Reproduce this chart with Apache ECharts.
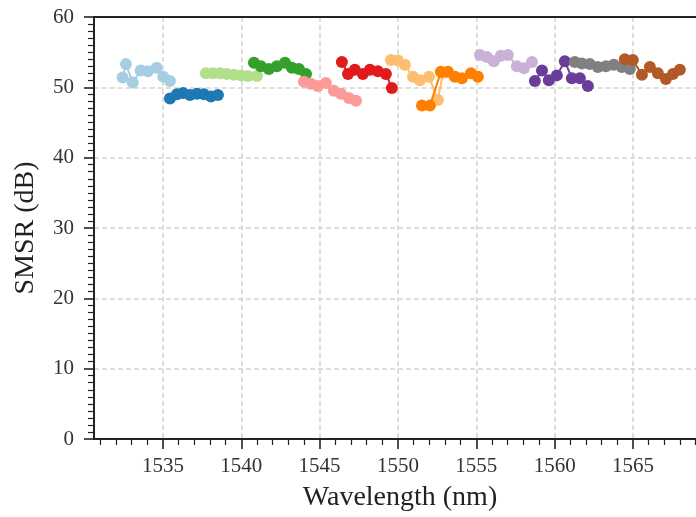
<!DOCTYPE html>
<html>
<head>
<meta charset="utf-8">
<script src="https://cdn.jsdelivr.net/npm/echarts@6/dist/echarts.min.js"></script>
<style>
  html, body { margin: 0; padding: 0; background: #ffffff; }
  #chart { width: 696px; height: 517px; }
</style>
</head>
<body>
<div id="chart"></div>
<script>
// Side-mode suppression ratio of each laser group across the C-band.
const lambda01 = [1532.43, 1532.64, 1533.07, 1533.58, 1534.04, 1534.60, 1535.02, 1535.45];
const smsr01   = [51.4, 53.3, 50.7, 52.4, 52.3, 52.8, 51.5, 50.9];

const lambda02 = [1535.45, 1535.89, 1536.28, 1536.72, 1537.17, 1537.62, 1538.06, 1538.51];
const smsr02   = [48.4, 49.0, 49.2, 48.9, 49.1, 49.0, 48.7, 48.9];

const lambda03 = [1537.74, 1538.19, 1538.64, 1539.08, 1539.53, 1539.98, 1540.42, 1541.00];
const smsr03   = [52.0, 52.0, 52.0, 51.9, 51.8, 51.7, 51.6, 51.6];

const lambda04 = [1540.81, 1541.25, 1541.76, 1542.27, 1542.79, 1543.23, 1543.68, 1544.13];
const smsr04   = [53.5, 53.0, 52.6, 53.0, 53.5, 52.8, 52.6, 51.9];

const lambda05 = [1544.00, 1544.44, 1544.89, 1545.40, 1545.91, 1546.36, 1546.87, 1547.32];
const smsr05   = [50.8, 50.5, 50.2, 50.6, 49.5, 49.1, 48.5, 48.1];

const lambda06 = [1546.42, 1546.81, 1547.25, 1547.76, 1548.21, 1548.72, 1549.23, 1549.61];
const smsr06   = [53.6, 51.9, 52.5, 51.9, 52.5, 52.3, 51.9, 49.9];

const lambda07 = [1549.55, 1550.00, 1550.44, 1550.96, 1551.40, 1551.98, 1552.55, 1552.87];
const smsr07   = [53.9, 53.8, 53.2, 51.5, 51.0, 51.5, 48.2, 52.0];

const lambda08 = [1551.53, 1552.04, 1552.74, 1553.19, 1553.63, 1554.08, 1554.66, 1555.10];
const smsr08   = [47.4, 47.4, 52.2, 52.2, 51.5, 51.3, 52.0, 51.5];

const lambda09 = [1555.23, 1555.68, 1556.12, 1556.57, 1557.02, 1557.59, 1558.04, 1558.55];
const smsr09   = [54.6, 54.3, 53.7, 54.5, 54.6, 53.0, 52.7, 53.6];

const lambda10 = [1558.74, 1559.19, 1559.63, 1560.14, 1560.65, 1561.10, 1561.61, 1562.12];
const smsr10   = [50.9, 52.4, 51.0, 51.7, 53.7, 51.3, 51.3, 50.2];

const lambda11 = [1561.29, 1561.74, 1562.25, 1562.76, 1563.27, 1563.78, 1564.29, 1564.80];
const smsr11   = [53.6, 53.4, 53.3, 52.9, 53.0, 53.2, 52.9, 52.6];

const lambda12 = [1564.48, 1564.99, 1565.57, 1566.08, 1566.59, 1567.10, 1567.55, 1567.99];
const smsr12   = [54.0, 53.9, 51.8, 52.9, 52.0, 51.2, 51.9, 52.5];

const groupColors = ['#a6cee3', '#1f78b4', '#b2df8a', '#33a02c', '#fb9a99', '#e31a1c',
                     '#fdbf6f', '#ff7f00', '#cab2d6', '#6a3d9a', '#808080', '#b15928'];

const xMajorTicks = [1535, 1540, 1545, 1550, 1555, 1560, 1565];
const xMin = 1530.6, xMax = 1569.66;

const groups = [
  [lambda01, smsr01], [lambda02, smsr02], [lambda03, smsr03], [lambda04, smsr04],
  [lambda05, smsr05], [lambda06, smsr06], [lambda07, smsr07], [lambda08, smsr08],
  [lambda09, smsr09], [lambda10, smsr10], [lambda11, smsr11], [lambda12, smsr12]
];

// one-nanometre minor ticks between the labelled ones
const xMinorTicks = [];
for (let v = Math.ceil(xMin); v <= Math.floor(xMax); v++) {
  if (v % 5 !== 0) xMinorTicks.push(v);
}

const ink = '#222222';
const serif = '"Liberation Serif", "DejaVu Serif", serif';
const gridLine = { show: true, lineStyle: { type: [5, 3], color: '#d4d4d4', width: 1.5 } };

const series = groups.map(([xs, ys], i) => ({
  type: 'line',
  xAxisIndex: 0,
  yAxisIndex: 0,
  data: xs.map((x, k) => [x, ys[k]]),
  symbol: 'circle',
  symbolSize: 12,
  showSymbol: true,
  lineStyle: { width: 2, color: groupColors[i] },
  itemStyle: { color: groupColors[i] },
  emphasis: { disabled: true },
  z: 10 + i * 0.01
}));

const chart = echarts.init(document.getElementById('chart'), null, { renderer: 'canvas' });
chart.setOption({
  animation: false,
  backgroundColor: '#ffffff',
  grid: {
    left: 94, top: 17, right: -10, bottom: 78,
    containLabel: false,
    outerBoundsMode: 'none'
  },
  xAxis: [
    {
      // main wavelength axis: auto ticks every 5 nm drive the dashed grid
      type: 'value',
      min: xMin, max: xMax,
      splitNumber: 8,
      position: 'bottom',
      z: 3,
      name: 'Wavelength (nm)',
      nameLocation: 'middle',
      nameGap: 45,
      nameTextStyle: { fontFamily: serif, fontSize: 28, color: ink },
      axisLine: { show: true, onZero: false, lineStyle: { color: ink, width: 2 } },
      axisTick: { show: true, customValues: xMajorTicks, length: 10, lineStyle: { color: ink, width: 1.6 } },
      axisLabel: {
        customValues: xMajorTicks,
        formatter: (v) => String(v),
        fontFamily: serif, fontSize: 21, color: '#333333', margin: 17
      },
      splitLine: gridLine
    },
    {
      // minor ticks
      type: 'value',
      min: xMin, max: xMax,
      position: 'bottom',
      z: 3,
      axisLine: { show: false, onZero: false },
      axisTick: { show: true, customValues: xMinorTicks, length: 6, lineStyle: { color: ink, width: 1.2 } },
      axisLabel: { show: false },
      splitLine: { show: false }
    },
    {
      // top frame line
      type: 'value',
      min: xMin, max: xMax,
      position: 'top',
      z: 4,
      axisLine: { show: true, onZero: false, lineStyle: { color: ink, width: 2 } },
      axisTick: { show: false },
      axisLabel: { show: false },
      splitLine: { show: false }
    }
  ],
  yAxis: {
    type: 'value',
    min: 0, max: 60, interval: 10,
    z: 3,
    name: 'SMSR (dB)',
    nameLocation: 'middle',
    nameGap: 54,
    nameTextStyle: { fontFamily: serif, fontSize: 28, color: ink },
    axisLine: { show: true, lineStyle: { color: ink, width: 2 } },
    axisTick: { show: true, length: 10, lineStyle: { color: ink, width: 1.6 } },
    minorTick: { show: true, splitNumber: 10, length: 6, lineStyle: { color: ink, width: 1.2 } },
    axisLabel: { fontFamily: serif, fontSize: 21, color: '#333333', margin: 20 },
    splitLine: gridLine
  },
  series: series
});
</script>
</body>
</html>
